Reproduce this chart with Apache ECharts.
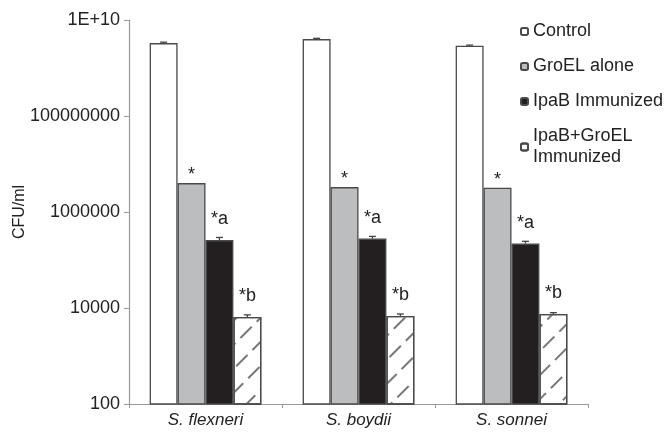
<!DOCTYPE html>
<html>
<head>
<meta charset="utf-8">
<script src="https://cdn.jsdelivr.net/npm/echarts@6/dist/echarts.min.js"></script>
<style>html,body{margin:0;padding:0;background:#fff;}#c{width:667px;height:432px;}</style>
</head>
<body>
<div id="c"></div>
<script>
const categories = ['S. flexneri', 'S. boydii', 'S. sonnei'];
const seriesNames = ['Control', 'GroEL alone', 'IpaB Immunized', 'IpaB+GroEL\nImmunized'];
const control = [3.3e9, 4.0e9, 2.9e9];
const groel = [4.0e6, 3.3e6, 3.2e6];
const ipab = [2.6e5, 2.8e5, 2.2e5];
const combo = [6.5e3, 6.8e3, 7.5e3];
const controlErr = [3.45e9, 4.15e9, 3.0e9];
const groelErr = [4.0e6, 3.3e6, 3.2e6];
const ipabErr = [2.95e5, 3.1e5, 2.45e5];
const comboErr = [7.2e3, 7.5e3, 8.0e3];
const labels = ['', '*', '*a', '*b'];
const yTicks = [100, 10000, 1000000, 100000000, 1e10];
const yTickText = ['100', '10000', '1000000', '100000000', '1E+10'];

const values = [control, groel, ipab, combo];
const errs = [controlErr, groelErr, ipabErr, comboErr];
const fills = ['#ffffff', '#bcbdbf', '#231f20', '#ffffff'];
const GAP = 0.27;
const FONT = '"Liberation Sans", Arial, sans-serif';

const barSeries = values.map((v, i) => ({
  name: seriesNames[i],
  type: 'bar',
  data: v,
  barGap: '0%',
  barCategoryGap: (GAP * 100) + '%',
  itemStyle: Object.assign({
    color: fills[i],
    borderColor: '#4a4a4a',
    borderWidth: 1.3
  }, i === 3 ? {
    decal: {
      symbol: 'rect',
      color: '#777',
      backgroundColor: null,
      dashArrayX: [[16, 7]],
      dashArrayY: [1.1, 15],
      rotation: -Math.PI / 4
    }
  } : {}),
  label: {
    show: labels[i] !== '',
    position: 'top',
    distance: i === 1 ? -1 : 12,
    formatter: labels[i],
    fontFamily: FONT,
    fontSize: 18,
    color: '#222'
  },
  z: 2
}));

const errData = [];
errs.forEach((arr, s) => arr.forEach((top, c) => {
  if (top > values[s][c]) errData.push([c, s, top, values[s][c]]);
}));

const errSeries = {
  type: 'custom',
  name: 'err',
  data: errData,
  encode: { x: 0, y: 2 },
  z: 5,
  silent: true,
  renderItem: function (params, api) {
    const c = api.value(0), s = api.value(1);
    const pTop = api.coord([c, api.value(2)]);
    const pBase = api.coord([c, api.value(3)]);
    const band = api.size([1, 0])[0];
    const bw = band * (1 - GAP) / 4;
    const x = pTop[0] + (s - 1.5) * bw;
    const st = { stroke: '#444', lineWidth: 1.3 };
    return {
      type: 'group',
      children: [
        { type: 'line', shape: { x1: x, y1: pBase[1], x2: x, y2: pTop[1] }, style: st },
        { type: 'line', shape: { x1: x - 3.5, y1: pTop[1], x2: x + 3.5, y2: pTop[1] }, style: st }
      ]
    };
  }
};

const chart = echarts.init(document.getElementById('c'), null, { renderer: 'canvas' });
chart.setOption({
  animation: false,
  backgroundColor: '#fff',
  grid: { left: 129, right: 79, top: 20, bottom: 28, containLabel: false, outerBoundsMode: 'none' },
  legend: {
    orient: 'vertical',
    left: 515,
    top: 16,
    itemWidth: 7,
    itemHeight: 7,
    itemGap: 14,
    data: seriesNames,
    textStyle: { fontFamily: FONT, fontSize: 18, color: '#222', lineHeight: 21 },
    selectedMode: false
  },
  xAxis: {
    type: 'category',
    data: categories,
    axisLine: { lineStyle: { color: '#999', width: 1.2 } },
    axisTick: { show: true, length: 4, lineStyle: { color: '#999' } },
    axisLabel: { fontFamily: FONT, fontSize: 17, fontStyle: 'italic', color: '#222', margin: 8 }
  },
  yAxis: {
    type: 'log',
    logBase: 10,
    min: 100,
    max: 1e10,
    interval: 2,
    name: 'CFU/ml',
    nameLocation: 'middle',
    nameGap: 101,
    nameMoveOverlap: false,
    nameRotate: 90,
    nameTextStyle: { fontFamily: FONT, fontSize: 16, color: '#222' },
    axisLine: { show: true, lineStyle: { color: '#999', width: 1.2 } },
    axisTick: { show: true, length: 5, lineStyle: { color: '#999' } },
    splitLine: { show: false },
    axisLabel: {
      fontFamily: FONT, fontSize: 18, color: '#222', margin: 9,
      formatter: function (v) {
        const i = yTicks.findIndex(t => Math.abs(Math.log10(t) - Math.log10(v)) < 1e-6);
        return i >= 0 ? yTickText[i] : '';
      }
    }
  },
  series: barSeries.concat([errSeries])
});
</script>
</body>
</html>
